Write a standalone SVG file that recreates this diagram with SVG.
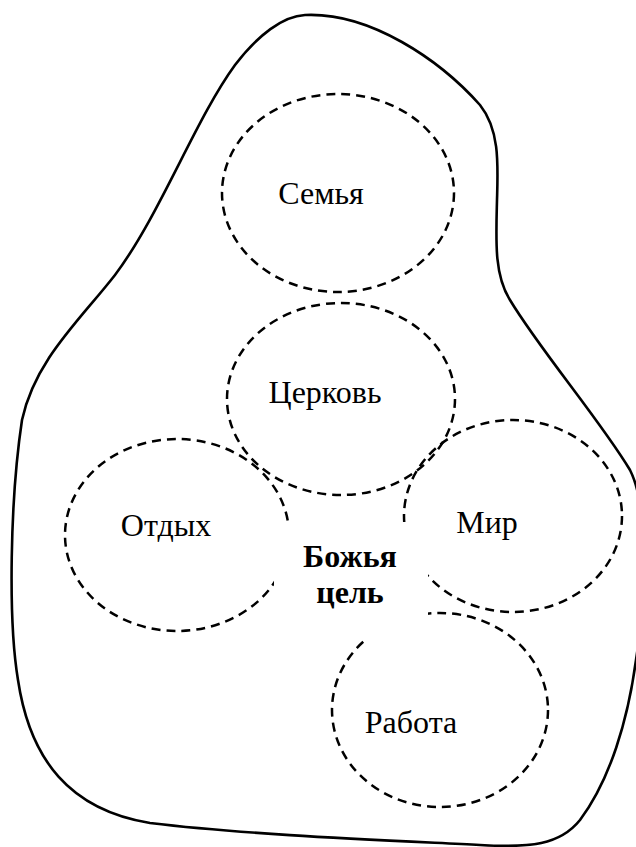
<svg xmlns="http://www.w3.org/2000/svg" width="636" height="847" viewBox="0 0 636 847">
<style>
.blob{fill:none;stroke:#000;stroke-width:2.6}
.c{fill:none;stroke:#000;stroke-width:2.5;stroke-dasharray:9 6}
.t{font-family:"Liberation Serif","Times New Roman",serif;font-size:32px;fill:#000;text-anchor:middle}
.b{font-weight:bold}
</style>
<rect width="636" height="847" fill="#fff"/>
<g id="blob">
<path class="blob" d="M305,15 C370,12 440,60 480,105 C500,130 498,165 497,200 C496,240 494,275 510,300 C540,350 600,420 630,470 C650,510 645,600 636,660 C628,720 610,780 580,820 C560,845 530,848 480,845 C380,840 250,835 150,823 C70,810 30,760 18,680 C8,620 10,500 22,420 C35,360 80,320 115,275 C160,215 195,120 235,65 C258,35 283,16 305,15 Z"/>
</g>
<g id="semya">
<ellipse class="c" cx="338" cy="193" rx="116" ry="99"/>
<text class="t" x="321" y="204">Семья</text>
</g>
<g id="tserkov">
<ellipse class="c" cx="341" cy="399" rx="114" ry="96"/>
<text class="t" x="325" y="403">Церковь</text>
</g>
<g id="otdyh">
<ellipse class="c" cx="177" cy="535" rx="112" ry="96"/>
<text class="t" x="166" y="536">Отдых</text>
</g>
<g id="mir">
<ellipse class="c" cx="513" cy="516" rx="109" ry="96"/>
<text class="t" x="487" y="533">Мир</text>
</g>
<g id="rabota">
<ellipse class="c" cx="440" cy="710" rx="108" ry="97"/>
<text class="t" x="411" y="733">Работа</text>
</g>
<g id="center">
<rect x="274" y="522" width="154" height="118" fill="#fff"/>
<text class="t b" x="350" y="567">Божья</text>
<text class="t b" x="350" y="603">цель</text>
</g>
</svg>
